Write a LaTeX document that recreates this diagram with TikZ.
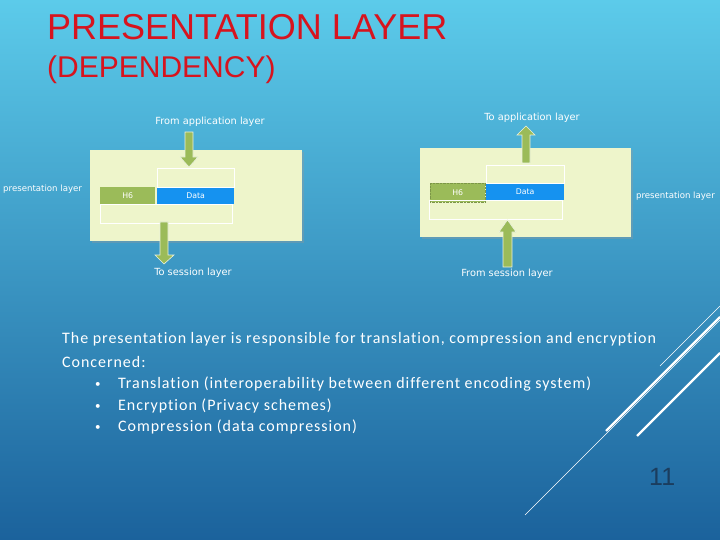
\documentclass[tikz,border=0pt]{standalone}
\usepackage{fontspec}
\setmainfont{Liberation Sans}
\newfontfamily\bodyfont[LetterSpace=6,Ligatures={NoCommon}]{Carlito}
\newfontfamily\labelfont{DejaVu Sans}
\usetikzlibrary{positioning}

\definecolor{slidetop}{HTML}{5CCBEA}
\definecolor{slidemid}{HTML}{3596C9}
\definecolor{slidebot}{HTML}{1B629C}
\definecolor{titlered}{HTML}{D7141E}
\definecolor{layerbox}{HTML}{EEF5CB}
\definecolor{olivebar}{HTML}{9BBB59}
\definecolor{databar}{HTML}{1592F0}
\definecolor{pagenum}{HTML}{1B3D5E}

\begin{document}
\begin{tikzpicture}[x=1pt,y=-1pt,
    lbl/.style={text=white,font=\labelfont\fontsize{9.8}{12}\selectfont,inner sep=0pt},
    small/.style={text=white,font=\labelfont\fontsize{8.6}{10}\selectfont,inner sep=0pt},
    bar/.style={inner sep=0pt,text=white,font=\labelfont\fontsize{7.8}{9}\selectfont,anchor=north west},
    blockarr/.style={fill=olivebar,draw=white!80!olivebar,line width=0.6pt},
    frame/.style={draw=white,line width=0.6pt},
    body/.style={text=white,anchor=base west,inner sep=0pt,font=\bodyfont\fontsize{16}{18}\selectfont}]
    % slide background
    \shade[top color=slidetop,middle color=slidemid,bottom color=slidebot] (0,0) rectangle (720,540);
    \useasboundingbox (0,0) rectangle (720,540);

    % title
    \node[anchor=base west,text=titlered,inner sep=0pt,font=\fontsize{36}{40}\selectfont] (title) at (47,40) {PRESENTATION LAYER};
    \node[anchor=base west,text=titlered,inner sep=0pt,font=\fontsize{30}{34}\selectfont] (subtitle) at (47,78) {(DEPENDENCY)};

    % sending side
    \fill[black!40,opacity=.35] (92,152) rectangle (304,243);
    \fill[layerbox] (90,150) rectangle (302,241);
    \node[bar,fill=olivebar,minimum width=55,minimum height=17] (hsend) at (100,187) {H6};
    \node[bar,fill=databar,minimum width=77,minimum height=17] (dsend) at (157,187) {Data};
    \draw[frame] (157,168) rectangle (234,187);
    \draw[frame] (100,204) rectangle (232,223);
    \draw[blockarr] (185,132) -- (193,132) -- (193,157) -- (198,157) -- (189,167) -- (180,157) -- (185,157) -- cycle;
    \draw[blockarr] (160,222) -- (168,222) -- (168,255) -- (174,255) -- (164,264) -- (155,255) -- (160,255) -- cycle;
    \node[lbl] (fromapp) at (210,122) {From application layer};
    \node[lbl] (tosess) at (193,273) {To session layer};
    \node[small,anchor=west] (presleft) at (3,189) {presentation layer};

    % receiving side
    \fill[black!40,opacity=.35] (422,150) rectangle (633,239);
    \fill[layerbox] (420,148) rectangle (631,237);
    \node[bar,fill=olivebar,draw=olivebar!80!black,densely dotted,minimum width=55,minimum height=19] (hrecv) at (430,183) {H6};
    \node[bar,fill=databar,minimum width=78,minimum height=17] (drecv) at (486,183) {Data};
    \draw[frame] (486,165) rectangle (564,183);
    \draw[frame] (429,200) rectangle (562,219);
    \draw[blockarr] (522,163) -- (530,163) -- (530,135) -- (535,135) -- (526,126) -- (517,135) -- (522,135) -- cycle;
    \draw[blockarr] (503,267) -- (512,267) -- (512,232) -- (516,232) -- (507.5,220) -- (499,232) -- (503,232) -- cycle;
    \node[lbl] (toapp) at (532,118) {To application layer};
    \node[lbl] (fromsess) at (507,274) {From session layer};
    \node[small,anchor=east] (presright) at (715,196) {presentation layer};

    % text
    \node[body] (intro) at (62,343) {The presentation layer is responsible for translation, compression and encryption};
    \node[body] (concern) at (62,367) {Concerned:};
    \foreach \y/\txt in {388/Translation (interoperability between different encoding system),
                         410/Encryption (Privacy schemes),
                         431/Compression (data compression)}{
        \node[body,font=\bodyfont\fontsize{11}{12}\selectfont] at (95,\y-1) {\textbullet};
        \node[body] at (118,\y) {\txt};
    }

    % corner strokes
    \draw[white,line width=0.5pt] (525,515) -- (720,320);
    \draw[white,line width=2.2pt] (606,431) -- (720,317);
    \draw[white,line width=0.5pt] (660,366) -- (720,306);
    \draw[white,line width=2.2pt] (637,436) -- (720,353);

    \node[anchor=base west,text=pagenum,inner sep=0pt,font=\fontsize{25}{28}\selectfont] (pageno) at (649,485) {11};
\end{tikzpicture}
\end{document}
